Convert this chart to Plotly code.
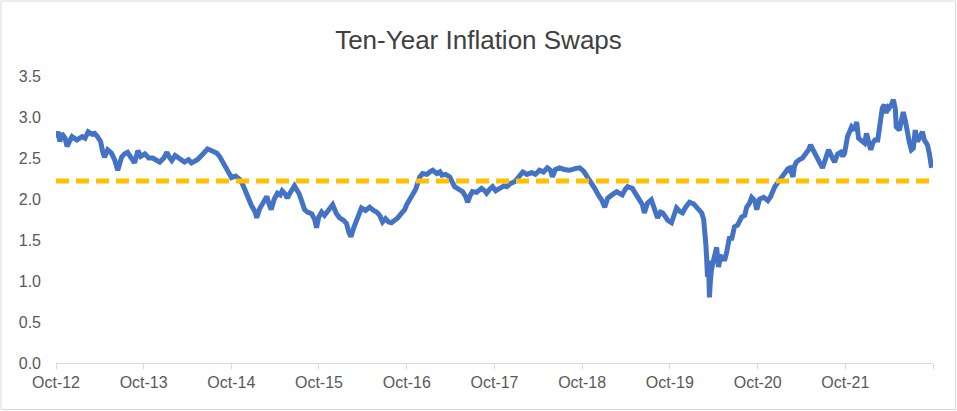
import plotly.graph_objects as go

# ---- data ----
dates = [
"2012-10-01","2012-10-09","2012-10-17","2012-10-25","2012-11-08","2012-11-16","2012-11-29","2012-12-07","2012-12-27","2013-01-18",
"2013-01-30","2013-02-12","2013-02-28","2013-03-11","2013-03-23","2013-04-05","2013-04-13","2013-04-21","2013-05-04","2013-05-20",
"2013-06-02","2013-06-15","2013-07-01","2013-07-13","2013-07-26","2013-08-08","2013-08-24","2013-09-07","2013-09-19","2013-10-06",
"2013-10-22","2013-11-08","2013-11-25","2013-12-07","2013-12-24","2014-01-06","2014-01-18","2014-01-26","2014-02-09","2014-02-21",
"2014-03-08","2014-03-20","2014-04-06","2014-04-18","2014-05-01","2014-05-13","2014-05-30","2014-06-11","2014-06-24","2014-07-02",
"2014-07-15","2014-08-01","2014-08-13","2014-08-21","2014-09-04","2014-09-12","2014-09-24","2014-10-02","2014-10-19","2014-11-05",
"2014-11-17","2014-12-04","2014-12-16","2014-12-24","2015-01-07","2015-01-15","2015-01-27","2015-02-05","2015-02-18","2015-02-26",
"2015-03-08","2015-03-16","2015-03-29","2015-04-11","2015-04-23","2015-05-01","2015-05-14","2015-05-22","2015-06-04","2015-06-21",
"2015-07-03","2015-07-11","2015-07-24","2015-08-02","2015-08-14","2015-09-01","2015-09-13","2015-09-21","2015-09-30","2015-10-12",
"2015-10-24","2015-11-06","2015-11-27","2015-12-13","2015-12-26","2016-01-12","2016-01-24","2016-02-02","2016-02-11","2016-02-23",
"2016-03-06","2016-03-18","2016-03-26","2016-04-12","2016-04-29","2016-05-15","2016-05-28","2016-06-10","2016-06-22","2016-07-04",
"2016-07-17","2016-07-29","2016-08-11","2016-08-24","2016-09-10","2016-09-22","2016-09-30","2016-10-13","2016-10-25","2016-11-07",
"2016-11-16","2016-11-24","2016-12-06","2016-12-23","2017-01-05","2017-01-17","2017-02-03","2017-02-16","2017-02-24","2017-03-11",
"2017-03-28","2017-04-09","2017-04-18","2017-05-04","2017-05-21","2017-06-03","2017-06-11","2017-06-23","2017-07-01","2017-07-18",
"2017-08-08","2017-08-21","2017-08-29","2017-09-11","2017-09-23","2017-10-06","2017-10-22","2017-11-09","2017-11-21","2017-12-07",
"2017-12-24","2018-01-10","2018-01-27","2018-02-13","2018-03-04","2018-03-20","2018-04-06","2018-04-23","2018-05-09","2018-05-22",
"2018-05-30","2018-06-12","2018-06-28","2018-07-19","2018-08-10","2018-09-01","2018-09-21","2018-10-07","2018-10-24","2018-11-10",
"2018-11-22","2018-12-09","2018-12-21","2019-01-03","2019-01-15","2019-02-02","2019-02-22","2019-03-05","2019-03-17","2019-03-30",
"2019-04-08","2019-04-28","2019-05-10","2019-05-19","2019-06-01","2019-06-09","2019-06-17","2019-06-30","2019-07-16","2019-07-28",
"2019-08-11","2019-08-23","2019-09-01","2019-09-14","2019-09-22","2019-10-08","2019-10-21","2019-10-29","2019-11-11","2019-11-23",
"2019-12-06","2019-12-22","2020-01-08","2020-01-21","2020-02-03","2020-02-11","2020-02-19","2020-02-24","2020-02-28","2020-03-02",
"2020-03-06","2020-03-10","2020-03-14","2020-03-18","2020-03-22","2020-03-31","2020-04-13","2020-04-21","2020-04-29","2020-05-08",
"2020-05-16","2020-05-24","2020-06-06","2020-06-14","2020-06-26","2020-07-09","2020-07-26","2020-08-08","2020-08-16","2020-08-28",
"2020-09-06","2020-09-19","2020-09-27","2020-10-09","2020-10-26","2020-11-12","2020-11-24","2020-12-11","2020-12-23","2021-01-01",
"2021-01-14","2021-01-22","2021-02-04","2021-02-12","2021-02-25","2021-03-03","2021-03-11","2021-03-24","2021-04-06","2021-04-18",
"2021-05-01","2021-05-09","2021-05-21","2021-06-03","2021-06-15","2021-06-28","2021-07-10","2021-07-23","2021-08-05","2021-08-17",
"2021-08-30","2021-09-12","2021-09-20","2021-09-28","2021-10-10","2021-10-19","2021-10-27","2021-11-09","2021-11-17","2021-11-25",
"2021-12-08","2021-12-20","2021-12-28","2022-01-06","2022-01-15","2022-01-23","2022-02-01","2022-02-13","2022-02-21","2022-03-01",
"2022-03-04","2022-03-12","2022-03-20","2022-03-29","2022-04-02","2022-04-11","2022-04-19","2022-04-27","2022-05-01","2022-05-14",
"2022-05-22","2022-05-30","2022-06-08","2022-06-16","2022-06-24","2022-07-03","2022-07-11","2022-07-19","2022-07-28","2022-08-05",
"2022-08-18","2022-08-26","2022-09-08","2022-09-16","2022-09-25",
]

swap_rate = [
2.75,2.82,2.70,2.80,2.74,2.64,2.72,2.76,2.72,2.76,
2.74,2.82,2.79,2.80,2.76,2.70,2.58,2.51,2.60,2.56,
2.48,2.35,2.51,2.55,2.57,2.50,2.44,2.59,2.52,2.55,
2.50,2.50,2.47,2.45,2.50,2.57,2.50,2.47,2.53,2.51,
2.48,2.45,2.48,2.44,2.46,2.48,2.53,2.58,2.61,2.60,
2.58,2.56,2.52,2.48,2.43,2.38,2.31,2.26,2.28,2.24,
2.18,2.05,1.98,1.92,1.85,1.77,1.88,1.92,1.98,2.03,
1.93,1.87,2.00,2.07,2.05,2.10,2.06,2.01,2.08,2.16,
2.10,2.06,1.95,1.87,1.84,1.82,1.75,1.65,1.78,1.84,
1.80,1.85,1.93,1.82,1.77,1.74,1.70,1.60,1.54,1.65,
1.75,1.82,1.89,1.86,1.90,1.86,1.84,1.80,1.72,1.76,
1.72,1.71,1.74,1.77,1.83,1.87,1.93,1.99,2.05,2.12,
2.20,2.27,2.31,2.30,2.33,2.35,2.31,2.33,2.29,2.30,
2.27,2.20,2.15,2.12,2.09,2.03,1.96,2.05,2.09,2.08,
2.13,2.10,2.07,2.12,2.15,2.10,2.13,2.16,2.15,2.19,
2.21,2.28,2.33,2.30,2.32,2.30,2.35,2.33,2.38,2.35,
2.27,2.36,2.38,2.36,2.35,2.37,2.38,2.34,2.27,2.20,
2.13,2.04,1.99,1.90,2.01,2.05,2.09,2.07,2.05,2.12,
2.15,2.13,2.07,2.01,1.97,1.93,1.83,1.95,1.99,1.88,
1.77,1.84,1.83,1.78,1.74,1.71,1.80,1.89,1.85,1.83,
1.90,1.96,1.94,1.90,1.86,1.83,1.75,1.62,1.45,1.30,
1.05,1.25,0.80,1.00,1.13,1.25,1.41,1.17,1.30,1.29,
1.25,1.34,1.54,1.50,1.66,1.68,1.78,1.80,1.90,1.95,
2.02,1.98,1.87,2.00,2.02,1.98,2.03,2.15,2.20,2.23,
2.30,2.33,2.37,2.38,2.27,2.40,2.45,2.48,2.50,2.55,
2.60,2.66,2.58,2.50,2.45,2.38,2.50,2.60,2.52,2.45,
2.55,2.57,2.52,2.56,2.76,2.82,2.88,2.84,2.94,2.74,
2.70,2.68,2.80,2.68,2.60,2.68,2.72,2.72,2.85,3.05,
3.11,3.15,3.05,3.12,3.11,3.15,3.21,3.10,2.88,2.84,
2.95,3.06,2.95,2.80,2.70,2.60,2.62,2.84,2.70,2.74,
2.82,2.72,2.66,2.55,2.38,
]

average_rate = 2.22

tick_dates = ["2012-10-01","2013-10-01","2014-10-01","2015-10-01","2016-10-01",
              "2017-10-01","2018-10-01","2019-10-01","2020-10-01","2021-10-01","2022-10-01"]
tick_labels = ["Oct-12","Oct-13","Oct-14","Oct-15","Oct-16",
               "Oct-17","Oct-18","Oct-19","Oct-20","Oct-21",""]

# ---- figure ----
fig = go.Figure()
fig.add_trace(go.Scatter(
    x=dates, y=swap_rate, mode="lines",
    line=dict(color="#4472C4", width=5),
    name="Ten-Year Inflation Swap", showlegend=False, hoverinfo="x+y",
))
fig.add_trace(go.Scatter(
    x=[dates[0], dates[-1]], y=[average_rate, average_rate], mode="lines",
    line=dict(color="#FFC000", width=5, dash="13px,7px"),
    name="Average", showlegend=False,
))

font_family = "Liberation Sans, Arial, sans-serif"
W, H = 957, 411
ml, mr, mt, mb = 56, 24, 76, 48
pw, ph = W - ml - mr, H - mt - mb

fig.update_layout(
    width=W, height=H,
    margin=dict(l=ml, r=mr, t=mt, b=mb),
    paper_bgcolor="white", plot_bgcolor="white",
    font=dict(family=font_family, size=16, color="#595959"),
    title=dict(text="Ten-Year Inflation Swaps", x=0.5, xref="container", xanchor="center",
               y=1 - 40 / H, yref="container", yanchor="middle",
               font=dict(size=26, color="#404040", family=font_family)),
    xaxis=dict(
        type="date", range=["2012-10-01", "2022-10-01"],
        tickmode="array", tickvals=tick_dates, ticktext=tick_labels,
        ticks="outside", ticklen=5, tickcolor="#D9D9D9", tickwidth=1,
        showline=True, linecolor="#D9D9D9", linewidth=1,
        showgrid=False, zeroline=False,
        tickfont=dict(size=16, color="#595959"),
    ),
    yaxis=dict(
        range=[0, 3.5], dtick=0.5, tick0=0, tickformat=".1f",
        showgrid=False, zeroline=False, showline=False,
        ticks="", ticklabelstandoff=14,
        tickfont=dict(size=16, color="#595959"),
    ),
    shapes=[dict(
        type="rect", xref="paper", yref="paper",
        x0=-(ml - 1) / pw, x1=1 + (mr - 1.5) / pw,
        y0=-(mb - 1.5) / ph, y1=1 + (mt - 1) / ph,
        line=dict(color="#D9D9D9", width=1), fillcolor="rgba(0,0,0,0)", layer="below",
    )],
)

fig.write_html(
    "out.html",
    config={"displayModeBar": False},
    post_script="document.body.style.margin='0';document.body.style.overflow='hidden';",
)
